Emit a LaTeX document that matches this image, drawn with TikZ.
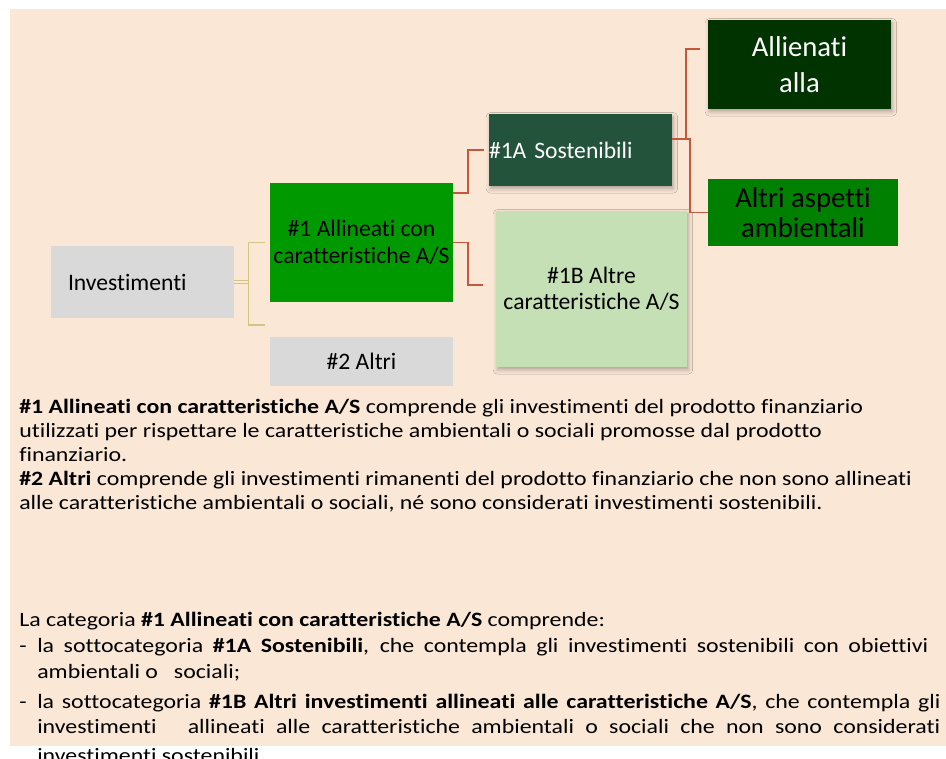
\documentclass[tikz,border=0pt]{standalone}
\usepackage{fontspec}
\setmainfont{Carlito}[Ligatures={NoCommon,NoRequired,NoContextual}, Contextuals=NoAlternate]
\newfontfamily\bodyfont{Carlito}[FakeStretch=1.17, Ligatures={NoCommon,NoRequired,NoContextual}, Contextuals=NoAlternate]
\usetikzlibrary{calc,shadows.blur}
\newlength\pxu
\setlength\pxu{0.025cm}
\definecolor{peach}{HTML}{FAE7D6}
\definecolor{boxgray}{HTML}{D9D9D9}
\definecolor{midgreen}{HTML}{009900}
\definecolor{darkteal}{HTML}{23533A}
\definecolor{palegreen}{HTML}{C5E0B4}
\definecolor{deepgreen}{HTML}{003300}
\definecolor{leafgreen}{HTML}{008000}
\definecolor{rust}{HTML}{C5583A}
\definecolor{sand}{HTML}{D4C480}
\newcommand\TextLine[3]{%
    \node[bodytext] (#1) at (#2) {#3};
}
\tikzset{
    box/.style={rectangle, inner sep=0pt, align=center, font=\fontsize{16.8}{19.2}\selectfont},
    softshadow/.style={blur shadow={shadow xshift=1pt, shadow yshift=-2pt, shadow blur radius=3pt, shadow opacity=30}},
    rustline/.style={rust, line width=1.4pt},
    sandline/.style={sand, line width=1.1pt},
    bodytext/.style={anchor=base west, inner sep=0pt, font=\bodyfont\fontsize{14.5}{17}\selectfont},
}

\begin{document}
\begin{tikzpicture}[x=0.025cm, y=-0.025cm]
    \useasboundingbox (0,0) rectangle (946,758);
    \fill[peach] (10,9) rectangle (946,746);
    % boxes
    \node[box, fill=boxgray, minimum width=183\pxu, minimum height=72\pxu, align=left, text width=149\pxu, inner xsep=17\pxu] (Invest) at (142.5,282) {Investimenti};
    \node[box, fill=midgreen, minimum width=183\pxu, minimum height=119\pxu] (AllAS) at (361.5,242.5) {\#1 Allineati con\\caratteristiche A/S};
    \node[box, fill=boxgray, minimum width=183\pxu, minimum height=49\pxu] (Other) at (361.5,361.5) {\#2 Altri};
    \node[box, softshadow, fill=darkteal, text=white, minimum width=183\pxu, minimum height=72\pxu, align=left, text width=183\pxu] (Sust) at (580.5,150) {\#1A Sostenibili};
    \node[box, softshadow, fill=palegreen, minimum width=191\pxu, minimum height=156\pxu, font=\fontsize{16.8}{18.5}\selectfont] (OtherAS) at (591.5,289) {\#1B Altre\\caratteristiche A/S};
    \node[box, softshadow, fill=deepgreen, text=white, minimum width=183\pxu, minimum height=89\pxu, font=\fontsize{20.4}{25.6}\selectfont] (Taxo) at (799.5,64.5) {Allienati\\alla};
    \node[box, fill=leafgreen, minimum width=190\pxu, minimum height=67\pxu, font=\fontsize{20.4}{21.3}\selectfont] (Env) at (803,212.5) {Altri aspetti\\ambientali};
    \begin{scope}[sandline] % fork
        \draw[double=peach, double distance=1.1pt] (Invest.east) -- ++(14,0) coordinate (Fork);
        \draw ($(AllAS.west)+(-5,0)$) -| (Fork) |- ($(Other.north west)+(-5,-12)$);
    \end{scope}
    \begin{scope}[rustline] % ties
        \draw ($(AllAS.north east)+(0,10)$) -- ++(15,0) |- ($(Sust.west)+(-5,0)$);
        \draw (AllAS.east) -- ++(15,0) |- ($(OtherAS.west)+(-13,-4)$);
        \draw ($(Sust.east)+(0,-11)$) -- ++(14,0) |- ($(Taxo.west)+(-8,-15.5)$);
        \draw ($(Sust.east)+(0,-11)$) -- ++(18,0) |- (Env.west);
    \end{scope}
    % text below
    \TextLine{DefOne}{19,413}{\textbf{\#1 Allineati con caratteristiche A/S} comprende gli investimenti del prodotto finanziario}
    \TextLine{DefOneB}{19,437}{utilizzati per rispettare le caratteristiche ambientali o sociali promosse dal prodotto}
    \TextLine{DefOneC}{19,461}{finanziario.}
    \TextLine{DefTwo}{19,485}{\textbf{\#2 Altri} comprende gli investimenti rimanenti del prodotto finanziario che non sono allineati}
    \TextLine{DefTwoB}{19,509}{alle caratteristiche ambientali o sociali, né sono considerati investimenti sostenibili.}
    \TextLine{CatHead}{19,626}{La categoria \textbf{\#1 Allineati con caratteristiche A/S} comprende:}
    \TextLine{DashA}{19,652}{-}
    \TextLine{SubA}{37,652}{\makebox[891\pxu][s]{la sottocategoria \textbf{\#1A Sostenibili}, che contempla gli investimenti sostenibili con obiettivi}}
    \TextLine{SubAEnd}{37,678}{ambientali o\hspace{16\pxu}sociali;}
    \TextLine{DashB}{19,708}{-}
    \TextLine{SubB}{37,708}{\makebox[903\pxu][s]{la sottocategoria \textbf{\#1B Altri investimenti allineati alle caratteristiche A/S}, che contempla gli}}
    \TextLine{SubBMid}{37,733}{\makebox[903\pxu][s]{investimenti\hspace{20\pxu} allineati alle caratteristiche ambientali o sociali che non sono considerati}}
    \TextLine{SubBEnd}{37,762}{investimenti sostenibili.}
\end{tikzpicture}
\end{document}
